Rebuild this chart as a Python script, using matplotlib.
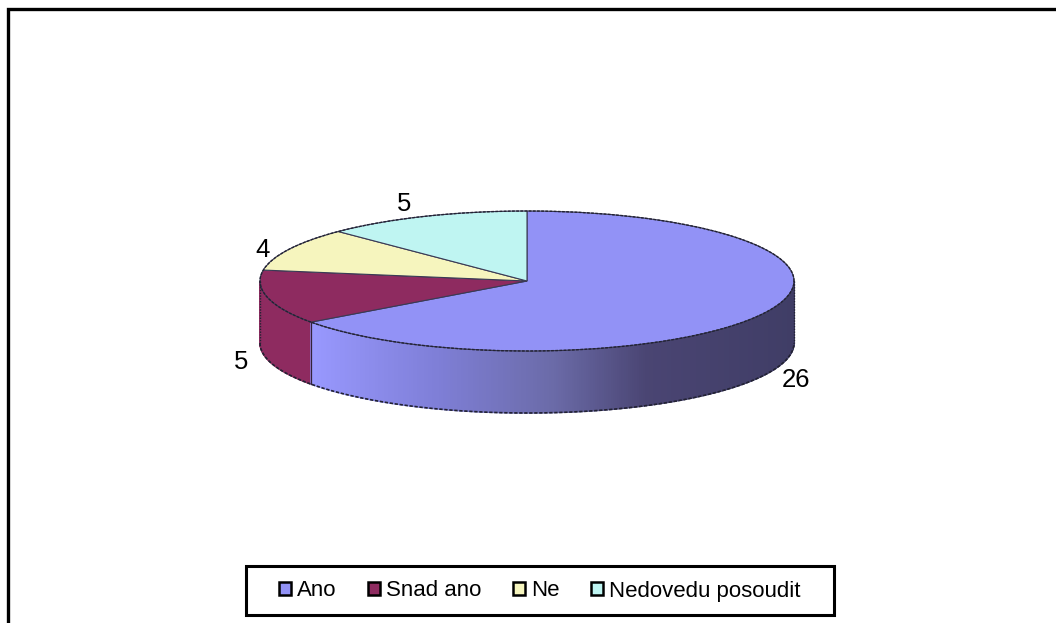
import matplotlib
matplotlib.use('Agg')
import matplotlib.pyplot as plt
import numpy as np
from matplotlib.patches import Patch, Rectangle

categories = ['Ano', 'Snad ano', 'Ne', 'Nedovedu posoudit']
values = [26, 5, 4, 5]
colors = ['#9292F6', '#8E2B60', '#F6F5BE', '#BFF5F2']

W, H = 1056, 623
CX, CY, RX, RY = 527, 281, 267, 70
DEPTH = 62 / RY

plt.rcParams['font.family'] = ['Liberation Sans', 'DejaVu Sans']

fig = plt.figure(figsize=(W / 100, H / 100), dpi=100)
ax = fig.add_axes([0, 0, 1, 1])
wedges, _ = ax.pie(values, colors=colors, startangle=90, counterclock=False, radius=1,
                   wedgeprops=dict(edgecolor='#3a3a55', linewidth=0.8), normalize=True)
# pie is stretched to an ellipse, one data unit is RX px across and RY px down
ax.set_aspect('auto')
ax.set_xlim(-CX / RX, (W - CX) / RX)
ax.set_ylim((CY - H) / RY, CY / RY)

# side wall of the disc, cut in thin strips
angles = np.cumsum([0] + values) / sum(values) * 360
ends = 90 - angles
t = np.radians(np.linspace(180, 360, 361))
stop_x = [-0.81, -0.35, 0.1, 0.45, 1.0]
stop_r = [0.60, 0.50, 0.42, 0.29, 0.25]
stop_g = [0.60, 0.50, 0.42, 0.27, 0.24]
stop_b = [1.00, 0.85, 0.66, 0.45, 0.40]
split = np.radians(ends[1] + 360)
for a, b in zip(t[:-1], t[1:]):
    xa, xb = np.cos(a), np.cos(b)
    xs = [xa, xb, xb, xa]
    ys = [np.sin(a), np.sin(b), np.sin(b) - DEPTH, np.sin(a) - DEPTH]
    if b <= split + 1e-9:
        c = colors[1]
    else:
        m = (xa + xb) / 2
        c = (np.interp(m, stop_x, stop_r), np.interp(m, stop_x, stop_g), np.interp(m, stop_x, stop_b))
    ax.fill(xs, ys, color=c, linewidth=1.0, zorder=0.5)

# outlines
tt = np.radians(np.linspace(0, 360, 721))
ax.plot(np.cos(tt), np.sin(tt), color='#222233', lw=1.0, ls=(0, (2, 1)), zorder=3)
tb = np.radians(np.linspace(180, 360, 361))
ax.plot(np.cos(tb), np.sin(tb) - DEPTH, color='#222233', lw=1.2, ls=(0, (2, 1)), zorder=3)
ax.plot([-1, -1], [0, -DEPTH], color='#222233', lw=1.0, ls=(0, (1, 1)), zorder=3)
ax.plot([1, 1], [0, -DEPTH], color='#222233', lw=1.0, ls=(0, (1, 1)), zorder=3)
ax.plot([np.cos(split)] * 2, [np.sin(split), np.sin(split) - DEPTH], color='#33233a', lw=0.9, zorder=3)

# value labels
label_pos = [(796, 380), (241, 362), (263, 250), (404, 204)]
for v, (px, py) in zip(values, label_pos):
    fig.text(px / W, 1 - py / H, str(v), fontsize=18.5, ha='center', va='center', color='black')

# chart frame runs off the right and bottom of the image
fig.add_artist(Rectangle((7.5 / W, -0.05), 1.1, 1 - 9 / H + 0.05, transform=fig.transFigure,
                         fill=False, edgecolor='black', linewidth=2.4))
# legend frame
fig.add_artist(Rectangle((246 / W, 1 - 615 / H), 588 / W, 49 / H, transform=fig.transFigure,
                         facecolor='white', edgecolor='black', linewidth=2.2))

handles = [Patch(facecolor=c, edgecolor='black', linewidth=1.8) for c in colors]
leg = fig.legend(handles, categories, ncol=4, loc='center left',
                 bbox_to_anchor=(279 / W, 1 - 591 / H), bbox_transform=fig.transFigure,
                 fontsize=16.0, frameon=False,
                 borderaxespad=0, borderpad=0, handlelength=0.54, handleheight=0.54,
                 handletextpad=0.27, columnspacing=1.42, labelspacing=0)

fig.savefig('out.png', dpi=100)
